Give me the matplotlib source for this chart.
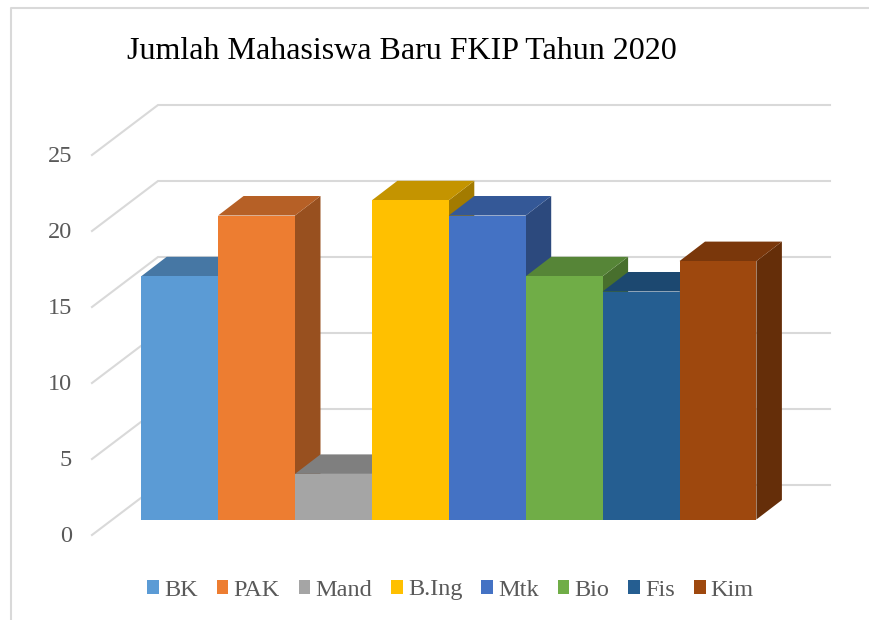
import matplotlib
matplotlib.use('Agg')
import matplotlib.pyplot as plt
from matplotlib.colors import to_rgb
from matplotlib.lines import Line2D
from matplotlib.patches import Patch, Polygon

plt.rcParams['font.family'] = ['Liberation Serif', 'DejaVu Serif']

categories = ['BK', 'PAK', 'Mand', 'B.Ing', 'Mtk', 'Bio', 'Fis', 'Kim']
values = [16, 20, 3, 21, 20, 16, 15, 17]
colors = ['#5B9BD5', '#ED7D31', '#A5A5A5', '#FFC000',
          '#4472C4', '#70AD47', '#255E91', '#9E480E']
y_ticks = [0, 5, 10, 15, 20, 25]

W, H = 870, 620
BAR_PX = 76.9
UNIT_PX = 15.2
X0_PX, Y0_PX = 141.2, 519.5

# depth of the bars, and of the floor, in data units
BAR_DX, BAR_DY = 25.5 / BAR_PX, 19.5 / UNIT_PX
WALL_X0, WALL_X1 = (92 - X0_PX) / BAR_PX, (158 - X0_PX) / BAR_PX
WALL_END = (830 - X0_PX) / BAR_PX
WALL_Y0, WALL_Y1 = (Y0_PX - 535) / UNIT_PX, (Y0_PX - 485) / UNIT_PX
GRID = '#d9d9d9'
TEXT = '#595959'


def shade(color, k):
    return tuple(c * k for c in to_rgb(color))


fig = plt.figure(figsize=(W / 100, H / 100), dpi=100)
ax = fig.add_axes([0, 0, 1, 1])
ax.set_xlim(-X0_PX / BAR_PX, (W - X0_PX) / BAR_PX)
ax.set_ylim((Y0_PX - H) / UNIT_PX, Y0_PX / UNIT_PX)
ax.axis('off')

# walls
for v in y_ticks:
    ax.plot([WALL_X0, WALL_X1, WALL_END], [WALL_Y0 + v, WALL_Y1 + v, WALL_Y1 + v],
            color=GRID, lw=1.5, zorder=1, solid_joinstyle='miter')
    ax.text(WALL_X0 - 20 / BAR_PX, WALL_Y0 + v - 0.11, str(v), ha='right', va='center',
            fontsize=17.5, color=TEXT)

# bars, left to right so that each one covers the side of the previous
for i, (val, col) in enumerate(zip(values, colors)):
    z = 2 + i
    ax.add_patch(Polygon([(i + 1, 0), (i + 1 + BAR_DX, BAR_DY),
                          (i + 1 + BAR_DX, val + BAR_DY), (i + 1, val)],
                         fc=shade(col, 0.64), ec='none', zorder=z))
    ax.add_patch(Polygon([(i, val), (i + 1, val),
                          (i + 1 + BAR_DX, val + BAR_DY), (i + BAR_DX, val + BAR_DY)],
                         fc=shade(col, 0.77), ec='none', zorder=z))
    ax.bar(i, val, width=1, align='edge', color=col, zorder=z + 0.5)

fig.text(127 / W, 1 - 59 / H, 'Jumlah Mahasiswa Baru FKIP Tahun 2020',
         fontsize=23, color='black', va='baseline')

handles = [Patch(fc=c, ec='none', label=n) for n, c in zip(categories, colors)]
fig.legend(handles=handles, ncol=8, loc='center', bbox_to_anchor=(450.5 / W, 1 - 590 / H),
           frameon=False, fontsize=17.5, labelcolor=TEXT, handlelength=0.49, handleheight=0.49,
           handletextpad=0.21, columnspacing=0.77, borderpad=0)

# chart frame, cut off by the picture on the right and at the bottom
fig.add_artist(Line2D([11.5 / W, 11.5 / W, 1], [0, 1 - 7.5 / H, 1 - 7.5 / H],
                      color=GRID, lw=1.5))

fig.savefig('out.png', dpi=100)
